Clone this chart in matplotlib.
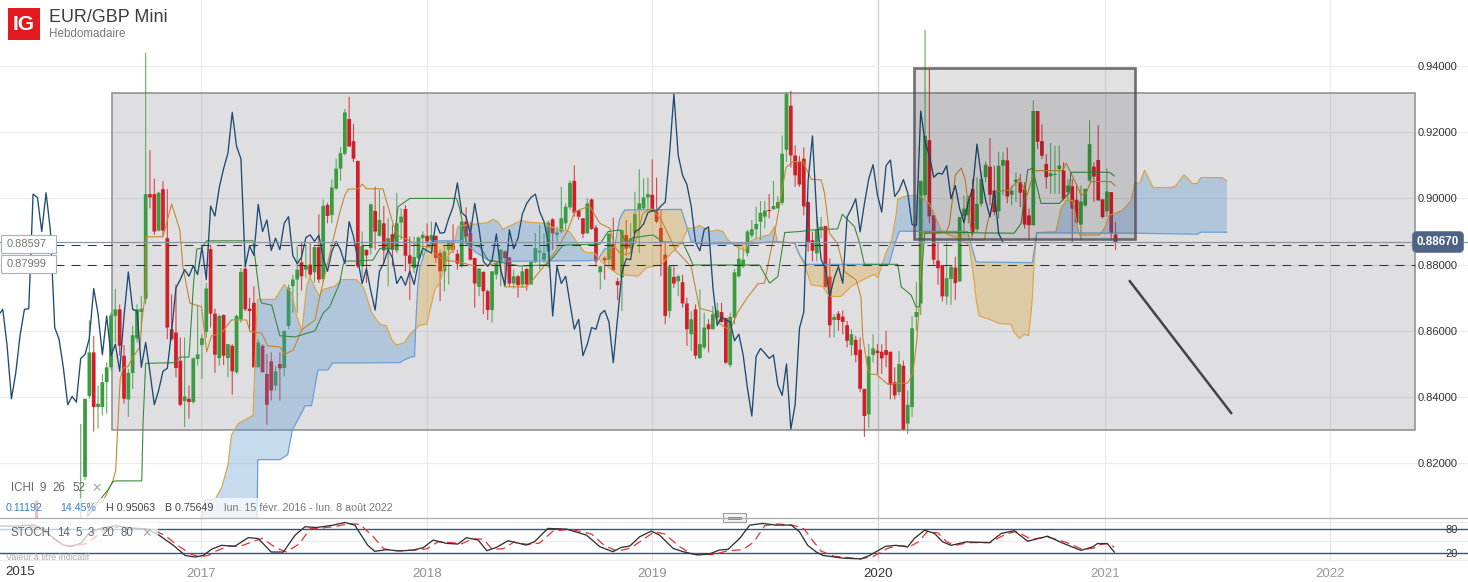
import numpy as np
import matplotlib
matplotlib.use("Agg")
import matplotlib.pyplot as plt
from matplotlib.patches import Rectangle

W, H = 1468, 582
plt.rcParams['font.family'] = ['Liberation Sans', 'DejaVu Sans']

# x axis unit is the weekly bar number, bar 0 is the first candle on screen
year_labels = ['2017', '2018', '2019', '2020', '2021', '2022']
year_weeks = [27.8, 79.9, 131.9, 184.2, 236.6, 288.6]
year_colors = ['#8f8f8f', '#8f8f8f', '#8f8f8f', '#333333', '#9a9a9a', '#9a9a9a']
price_ticks = [0.82, 0.84, 0.86, 0.88, 0.90, 0.92, 0.94]

opens = [.7960,.8159,.8403,.8535,.8370,.8370,.8445,.8490,.8645,.8665,.8525,.8393,
 .8473,.8577,.8657,.8697,.9013,.9013,.8903,.9028,.8880,.8605,.8595,.8510,
 .8388,.8395,.8385,.8515,.8557,.8597,.8847,.8652,.8518,.8648,.8518,.8555,
 .8475,.8635,.8788,.8667,.8685,.8490,.8555,.8470,.8508,.8435,.8500,.8488,
 .8615,.8735,.8755,.8807,.8785,.8800,.8777,.8853,.8757,.8980,.8950,
 .9030,.9090,.9135,.9240,.9173,.9113,.8795,.8845,.8850,.8962,.8887,.8925,
 .8845,.8892,.8843,.8927,.8968,.8828,.8790,.8820,.8880,.8887,.8873,.8887,
 .8835,.8780,.8845,.8870,.8833,.8795,.8930,.8895,.8820,.8733,.8778,.8720,
 .8663,.8770,.8805,.8840,.8822,.8743,.8765,.8740,.8787,.8740,.8807,.8837,
 .8815,.8840,.8937,.8890,.8900,.8925,.8973,.9053,.8965,.8940,.8895,
 .8997,.8912,.8777,.8820,.8815,.8863,.8750,.8762,.8890,.8850,.8895,.8967,
 .8970,.9003,.9011,.8960,.8911,.8830,.8660,.8763,.8750,.8747,.8683,.8590,
 .8665,.8518,.8550,.8620,.8605,.8640,.8657,.8639,.8497,.8640,.8765,.8795,
 .8835,.8888,.8907,.8930,.8945,.8965,.8967,.8970,.8987,.9147,.9280,
 .9130,.9110,.9120,.8989,.8874,.8834,.8904,.8917,.8764,.8633,.8652,.8643,
 .8617,.8557,.8573,.8543,.8425,.8348,.8527,.8540,.8537,.8542,.8537,.8445,
 .8415,.8495,.8320,.8370,.8642,.8683,.9010,.9176,.8949,.8812,.8799,.8704,
 .8757,.8791,.8749,.8946,.8949,.9029,.8907,.8984,.9064,.9096,.9024,.8961,
 .9099,.9115,.9011,.9049,.9049,.9027,.8949,.8919,.9264,.9173,.9104,.9067,
 .9071,.9089,.9084,.9019,.9037,.8996,.8921,.8979,.9054,.9096,.9116,.8997,
 .8961,.9019,.8891]
closes = [.8026,.8395,.8535,.8370,.8380,.8445,.8490,.8647,.8665,.8555,.8395,.8473,
 .8587,.8665,.8667,.9013,.9003,.8900,.9017,.8903,.8610,.8575,.8488,.8377,
 .8402,.8385,.8517,.8529,.8578,.8728,.8652,.8528,.8645,.8525,.8560,.8478,
 .8645,.8778,.8665,.8660,.8490,.8565,.8475,.8377,.8420,.8478,.8487,.8600,
 .8730,.8755,.8785,.8765,.8797,.8770,.8853,.8755,.8977,.8947,.9033,
 .9090,.9137,.9260,.9157,.9120,.8795,.8857,.8828,.8982,.8900,.8935,.8843,
 .8880,.8845,.8925,.8945,.8827,.8803,.8823,.8882,.8890,.8870,.8889,.8820,
 .8780,.8840,.8870,.8845,.8803,.8930,.8885,.8815,.8743,.8788,.8720,.8663,
 .8780,.8805,.8845,.8820,.8743,.8765,.8738,.8780,.8740,.8808,.8850,.8842,
 .8835,.8927,.8895,.8897,.8940,.8975,.9047,.8957,.8945,.8893,.8985,
 .8908,.8810,.8795,.8813,.8893,.8782,.8738,.8905,.8848,.8880,.8953,.8985,
 .9003,.9013,.8960,.8930,.8865,.8645,.8795,.8743,.8765,.8683,.8605,.8635,
 .8525,.8560,.8610,.8605,.8650,.8662,.8627,.8504,.8642,.8777,.8818,.8815,
 .8900,.8907,.8923,.8957,.8963,.8962,.8977,.8989,.9135,.9315,.9130,
 .9070,.9042,.8976,.8867,.8842,.8906,.8914,.8733,.8617,.8642,.8633,.8627,
 .8570,.8590,.8527,.8425,.8343,.8523,.8547,.8533,.8517,.8527,.8437,.8405,
 .8500,.8303,.8377,.8608,.8657,.9053,.9189,.8946,.8815,.8789,.8704,.8759,
 .8794,.8744,.8944,.8969,.8999,.8899,.8984,.9059,.9102,.9011,.8959,.9099,
 .9116,.9006,.9024,.9057,.9017,.8921,.8919,.9264,.9171,.9129,.9064,.9076,
 .9074,.9099,.8999,.9039,.8969,.8927,.8991,.9029,.9164,.9066,.8994,.8944,
 .9021,.8894,.8867]
highs = [.8319,.8395,.8632,.8585,.8435,.8470,.8505,.8655,.8727,.8680,.8557,.8485,
 .8615,.8680,.8705,.9440,.9146,.9060,.9020,.9052,.9028,.8710,.8740,.8580,
 .8580,.8435,.8520,.8675,.8590,.8745,.8860,.8667,.8650,.8650,.8560,.8560,
 .8650,.8790,.8800,.8700,.8735,.8575,.8560,.8530,.8535,.8495,.8535,.8600,
 .8740,.8770,.8855,.8870,.8855,.8865,.8855,.8952,.8997,.8987,.9057,
 .9120,.9155,.9270,.9307,.9225,.9115,.8900,.8845,.8985,.9035,.9025,.8977,
 .8940,.8920,.9017,.8970,.8980,.8885,.8885,.8885,.8900,.8925,.8930,.8887,
 .8845,.8855,.8870,.8922,.8845,.8930,.8973,.8930,.8820,.8790,.8780,.8725,
 .8780,.8810,.8847,.8843,.8822,.8785,.8770,.8795,.8790,.8810,.8895,.8920,
 .8895,.8933,.8940,.8915,.9035,.8985,.9055,.9100,.8965,.8940,.9000,
 .9000,.8920,.8795,.8825,.8897,.8942,.8760,.8905,.8935,.8925,.9020,.9088,
 .9060,.9063,.9118,.9063,.8965,.8865,.8795,.8795,.8770,.8770,.8700,.8660,
 .8680,.8725,.8655,.8635,.8675,.8685,.8685,.8640,.8655,.8787,.8855,.8853,
 .8905,.8935,.8975,.8992,.8992,.9013,.9053,.9007,.9190,.9320,.9325,
 .9160,.9129,.9154,.8990,.8900,.8944,.8944,.8917,.8819,.8650,.8660,.8662,
 .8630,.8605,.8585,.8580,.8425,.8560,.8590,.8560,.8560,.8600,.8537,.8490,
 .8540,.8510,.8420,.8645,.8747,.9053,.9509,.9391,.8949,.8869,.8799,.8869,
 .8794,.8824,.8944,.9009,.9009,.9059,.9064,.9075,.9112,.9182,.9099,.9141,
 .9139,.9154,.9039,.9079,.9074,.9049,.8969,.9296,.9264,.9224,.9134,.9167,
 .9159,.9159,.9109,.9059,.9059,.9039,.9039,.9029,.9236,.9109,.9221,.8999,
 .9091,.9019,.8929]
lows = [.7900,.8150,.8395,.8296,.8305,.8345,.8350,.8480,.8565,.8525,.8380,.8340,
 .8425,.8565,.8595,.8680,.8970,.8890,.8900,.8885,.8575,.8570,.8460,.8372,
 .8310,.8335,.8380,.8495,.8455,.8580,.8610,.8473,.8495,.8497,.8460,.8407,
 .8470,.8625,.8660,.8600,.8490,.8490,.8475,.8317,.8390,.8420,.8390,.8463,
 .8605,.8655,.8655,.8722,.8760,.8760,.8745,.8745,.8745,.8925,.8925,
 .9025,.9053,.9130,.9155,.9110,.8790,.8760,.8745,.8830,.8845,.8885,.8805,
 .8735,.8795,.8835,.8875,.8780,.8693,.8775,.8815,.8825,.8850,.8850,.8805,
 .8690,.8720,.8740,.8835,.8785,.8790,.8865,.8813,.8670,.8705,.8650,.8633,
 .8625,.8755,.8735,.8735,.8733,.8728,.8700,.8730,.8722,.8740,.8805,.8785,
 .8805,.8790,.8845,.8870,.8895,.8905,.8965,.8945,.8935,.8880,.8893,
 .8905,.8795,.8725,.8755,.8795,.8780,.8693,.8660,.8825,.8835,.8890,.8835,
 .8965,.8965,.8960,.8925,.8765,.8620,.8640,.8730,.8705,.8670,.8555,.8540,
 .8515,.8515,.8545,.8535,.8605,.8615,.8625,.8500,.8490,.8620,.8760,.8790,
 .8825,.8880,.8880,.8875,.8910,.8940,.8967,.8970,.8980,.9110,.9093,
 .9035,.9035,.8949,.8839,.8810,.8810,.8880,.8730,.8580,.8580,.8600,.8590,
 .8550,.8525,.8505,.8415,.8280,.8307,.8505,.8470,.8470,.8490,.8393,.8393,
 .8405,.8300,.8288,.8340,.8600,.8648,.9000,.8925,.8800,.8739,.8689,.8679,
 .8679,.8694,.8749,.8889,.8925,.8889,.8899,.8975,.9050,.8979,.8949,.8939,
 .9009,.8986,.8979,.8989,.8974,.8909,.8874,.8919,.9149,.9119,.9029,.9014,
 .9014,.9014,.8994,.8994,.8867,.8924,.8874,.8974,.9049,.8989,.8994,.8939,
 .8944,.8874,.8844]

tenkan_wk = [1.5,2.1,5.1,7.5,8.1,8.3,9.1,9.8,10.9,12.1,13.7,14.1,15.0,15.1,19.0,21.0,22.9,23.6,25.2,27.9,
 29.1,30.2,32.5,34.8,38.3,39.1,41.8,43.2,46.0,47.1,49.1,51.0,54.1,55.2,57.9,59.8,61.0,61.8,64.1,65.0,
 66.0,69.8,72.1,73.3,75.6,77.9,80.6,81.8,83.7,87.1,90.6,94.5,96.8,97.9,102.9,104.4,107.5,109.9,112.5,114.1,
 117.5,119.9,122.2,123.3,124.9,126.8,128.3,129.8,131.8,134.1,137.4,141.0,142.9,146.0,147.5,149.9,151.8,154.1,156.4,157.9,
 160.6,162.9,164.5,166.8,168.7,171.0,171.8,172.9,174.8,176.4,179.1,180.2,180.6,181.8,182.5,183.7,186.4,189.1,191.0,192.2,
 193.1,193.7,194.4,198.7,199.9,200.6,201.3,202.0,203.4,204.3,205.2,205.9,208.7,209.4,211.4,214.5,216.8,218.6,220.2,226.7,
 227.6,230.2,231.0,232.2,233.3,237.9,238.9]
tenkan = [.8041,.8080,.8083,.8150,.8180,.8240,.8452,.8488,.8492,.8522,.8552,.8624,.8724,.8884,.8884,.8983,.8905,.8794,.8684,.8673,
 .8537,.8585,.8593,.8633,.8633,.8598,.8593,.8554,.8552,.8529,.8542,.8603,.8633,.8703,.8854,.8956,.9010,.9028,.9029,.9043,
 .9029,.9029,.8925,.8888,.8875,.8857,.8854,.8834,.8814,.8809,.8797,.8799,.8809,.8733,.8733,.8754,.8804,.8844,.8905,.8960,
 .8977,.8925,.8910,.8854,.8829,.8834,.8875,.8955,.8970,.8935,.8844,.8794,.8668,.8658,.8623,.8601,.8658,.8703,.8742,.8744,
 .8920,.9094,.9111,.9111,.9058,.9056,.9016,.8896,.8863,.8779,.8754,.8703,.8582,.8482,.8469,.8469,.8439,.8442,.8442,.8472,
 .8572,.8683,.8896,.8897,.8899,.8920,.8995,.9071,.9092,.9056,.8950,.8875,.8875,.8926,.9020,.9026,.9059,.9010,.9084,.9084,
 .9106,.9036,.9010,.9016,.9051,.9051,.9038]

kijun_wk = [1.7,3.8,6.3,7.5,8.1,14.1,14.4,15.0,21.8,22.9,25.0,25.6,26.0,26.8,27.9,29.1,39.8,40.6,41.4,41.8,
 44.1,46.0,49.5,54.1,56.0,57.5,59.8,60.6,61.0,63.7,67.5,69.1,72.1,73.3,76.0,86.8,87.5,89.1,92.2,94.1,
 101.4,107.5,109.9,111.4,119.9,121.8,124.5,126.0,127.5,132.1,134.5,139.1,140.6,141.4,156.8,159.1,161.0,162.6,166.0,169.1,
 174.8,175.9,178.7,179.9,181.0,188.7,189.5,191.8,192.9,193.7,194.9,204.9,207.1,215.6,217.2,218.7,219.8,221.8,226.0,228.3,
 228.7,237.6,238.7]
kijun = [.8041,.8080,.8120,.8145,.8147,.8147,.8322,.8502,.8504,.8521,.8521,.8643,.8734,.8847,.8850,.8872,.8872,.8784,.8699,.8684,
 .8678,.8585,.8582,.8600,.8654,.8673,.8744,.8799,.8811,.8811,.8814,.8849,.8849,.8975,.9000,.9000,.8971,.8865,.8854,.8814,
 .8796,.8799,.8834,.8859,.8862,.8900,.8905,.8865,.8881,.8890,.8869,.8865,.8824,.8799,.8799,.8744,.8764,.8897,.8900,.8905,
 .8908,.8952,.8915,.8865,.8801,.8801,.8733,.8708,.8673,.8673,.8895,.8897,.8896,.8895,.8925,.9086,.9091,.8985,.8985,.9017,
 .9079,.9079,.9068]

span_a_wk = [27.8,28.7,31.0,32.6,34.0,34.8,36.4,39.8,40.2,40.8,44.8,47.0,48.7,49.9,51.1,52.2,52.9,54.1,55.1,56.0,
 58.7,60.2,63.7,65.2,66.0,67.2,69.1,70.6,71.8,72.9,74.8,76.0,77.1,78.3,79.9,81.8,82.9,84.8,86.0,87.1,
 89.1,91.4,94.0,95.2,96.3,97.5,99.5,101.8,103.7,107.2,108.3,111.4,112.9,114.5,116.4,118.7,120.2,124.1,124.9,128.7,
 130.6,134.1,136.4,138.7,140.2,141.3,142.9,144.1,145.2,147.1,148.3,149.5,151.4,153.3,154.5,157.2,159.1,160.2,160.9,164.9,
 166.0,167.2,168.7,171.4,172.9,175.6,177.9,180.6,183.3,184.1,185.9,187.2,188.3,188.7,191.0,193.7,196.0,197.2,198.7,200.6,
 203.0,205.2,206.4,206.8,207.5,209.9,212.2,214.9,215.6,216.8,217.9,218.9,219.5,219.8,220.2,220.8,223.7,225.2,226.4,227.6,
 229.1,230.6,235.2,236.4,237.5,240.6,242.6,243.5,244.6,245.7,247.7,251.8,252.8,254.8,256.8,257.8,258.7,263.7,264.7]
span_a = [.8035,.8090,.8090,.8129,.8195,.8285,.8320,.8345,.8485,.8695,.8695,.8740,.8715,.8645,.8600,.8735,.8765,.8730,.8705,.8725,
 .8735,.8755,.8755,.8733,.8705,.8655,.8620,.8615,.8575,.8557,.8565,.8590,.8603,.8617,.8620,.8725,.8745,.8825,.8845,.8915,
 .8920,.8923,.8927,.8937,.8930,.8907,.8920,.8933,.8928,.8925,.8915,.8905,.8900,.8870,.8838,.8835,.8810,.8770,.8770,.8765,
 .8790,.8800,.8835,.8865,.8910,.8910,.8918,.8910,.8900,.8905,.8900,.8875,.8855,.8842,.8870,.8885,.8890,.8915,.8870,.8865,
 .8829,.8799,.8739,.8734,.8704,.8704,.8734,.8754,.8771,.8761,.8834,.8869,.8949,.8999,.9009,.9009,.8984,.8949,.8904,.8889,
 .8879,.8859,.8745,.8695,.8645,.8635,.8622,.8620,.8595,.8578,.8590,.8585,.8655,.8705,.8809,.8897,.8899,.8899,.8969,.8994,
 .8994,.8889,.8889,.8909,.8949,.8964,.8994,.9047,.9047,.9085,.9033,.9033,.9037,.9072,.9045,.9045,.9063,.9063,.9052]

# first two values sit below the visible part of the pane
span_b_wk = [27.8,40.7,40.9,46.0,47.8,48.9,51.0,51.8,53.3,54.8,57.1,58.2,73.7,74.4,76.5,77.1,77.4,77.8,78.3,79.9,81.4,
 88.2,91.0,94.5,96.0,117.5,119.4,121.0,123.3,124.5,125.6,138.7,140.2,141.0,142.9,154.9,160.2,164.9,166.0,167.5,186.7,
 187.9,189.1,204.8,206.8,219.8,220.8,243.3,257.9,258.7,264.7]
span_b = [.8000,.8000,.8211,.8211,.8226,.8301,.8352,.8374,.8374,.8482,.8482,.8503,.8504,.8510,.8522,.8522,.8625,.8725,.8790,.8855,.8872,
 .8872,.8840,.8810,.8810,.8812,.8815,.8847,.8853,.8940,.8965,.8967,.8905,.8870,.8863,.8863,.8870,.8865,.8830,.8801,.8801,
 .8859,.8901,.8900,.8808,.8806,.8896,.8895,.8892,.8898,.8898]

stoch_k_wk = [-18.6,-14.8,-10.9,-8.6,-7.1,-4.0,-2.1,0.2,1.8,4.5,7.9,12.1,15.2,18.1,21.4,24.1,26.4,28.3,30.2,32.5,
 35.6,38.7,41.0,44.0,46.8,49.5,51.8,54.5,58.3,61.0,63.3,66.3,67.9,70.6,73.7,76.8,79.1,81.4,84.5,87.1,
 89.1,91.8,93.8,96.0,98.7,102.9,104.8,107.9,112.2,116.8,119.9,122.9,124.9,126.8,129.1,131.8,133.7,136.8,139.1,142.5,
 145.2,147.5,149.5,152.2,154.5,157.5,160.6,164.1,166.0,167.9,169.9,171.4,176.0,180.2,182.2,185.9,188.3,191.0,192.5,194.9,
 197.2,199.1,201.0,204.5,209.9,212.6,215.6,218.7,223.3,226.7,231.0,233.7,234.8,237.1,238.7]
stoch_k = [88.7,88.7,91.3,82.6,65,39.1,36.5,45.2,69.6,82.6,89.6,82.6,81.8,65,39,13,8.7,13,28.7,39,
 36.5,59,56.5,21.7,21.7,65,87,85,91,98,91,39,23.5,27.8,24.4,26.9,32.9,52.6,44,42.3,
 58.6,52.6,25.1,33.7,50.9,39.7,48.3,82.6,80.8,65.4,35.4,22.6,33.7,37.1,61.1,75.7,65.4,31.1,22.6,14,
 16.6,26.9,28.6,56.9,91.1,95.4,91.1,91.3,74,39,21.7,13,6,4,13,36.5,39,34.8,56.5,78,
 69.6,47.8,39,47.8,46,69.6,76.6,49.6,62.6,45.2,26,34.8,43.5,43.5,21.7]

stoch_d_wk = [-12,-8.5,-5.5,-3,-1,1.5,5,9,14,17,19.5,22.5,25.5,27.5,29.5,31,34,37,39.5,42,
 45,47.5,50.5,53,56,59,62,64.5,67.5,70,73,77,80,82.5,85.5,88,90.5,93,95,97.5,
 100,103.5,106,109,113,118,121,124,127,130,132.5,135,138,141,146,149.5,153,155.5,158,161,
 164.5,167,169,171,174,180,183,186.5,189,191.5,193.5,195.5,198,200,202,205,210,213.5,216,219.5,
 223.5,227.5,231.5,234,235.5,237.5,238.7]
stoch_d = [89,76,50,37,38,44,75,88,82,78,64,38,16,9.5,13,23,37,37,48,57,
 33,22,43,82,84,88,95,93,62,30,25,26.5,30,48,46,43,56,55,29,30,
 47,41,45,75,81,68,38,24,32,55,74,68,38,17,15,25,28,48,90,94,
 91,82,52,24,11,4,10,32,38,36,48,74,71,48,39,46,46,67,75,55,
 60,47,28,32,41,44,34]

level_labels = ['0.88597', '0.87999']
level_prices = [0.88597, 0.87999]
last_price = 0.8867
trend_wk = [242.3, 265.7]
trend_price = [0.8750, 0.8352]
big_box_wk = [7.2, 308.2]
big_box_price = [0.8301, 0.9319]
small_box_wk = [192.5, 243.5]
small_box_price = [0.8878, 0.9395]
stoch_levels = [20, 80]

GREEN = '#3a9b3f'
RED = '#d11f27'


def fx(px):
    return px / W


def fy(py):
    return 1 - py / H


fig = plt.figure(figsize=(W / 100, H / 100), dpi=100)
ax = fig.add_axes([0, fy(518), 1, 518 / H])
ax2 = fig.add_axes([0, fy(562), 1, 44 / H])

xlim = (-18.64, 320.4)
ax.set_xlim(*xlim)
ax2.set_xlim(*xlim)
ax.set_ylim(0.80349, 0.95993)
ax2.set_ylim(-4, 109.5)
for a in (ax, ax2):
    for s in a.spines.values():
        s.set_visible(False)
    a.set_axisbelow(True)

# --- grid, ticks
ax.set_xticks(year_weeks)
ax.set_xticklabels([])
ax.set_yticks(price_ticks)
ax.set_yticklabels(['%.5f' % v for v in price_ticks])
ax.yaxis.tick_right()
ax.tick_params(axis='both', length=0)
ax.tick_params(axis='y', pad=-36, labelsize=8, labelcolor='#333333')
ax.grid(color='#ececec', linewidth=0.9)

ax2.set_xticks(year_weeks)
ax2.set_xticklabels(year_labels)
ax2.set_yticks(stoch_levels)
ax2.set_yticklabels([str(v) for v in stoch_levels])
ax2.set_yticks([0, 50, 100], minor=True)
ax2.yaxis.tick_right()
ax2.tick_params(axis='both', which='both', length=0)
ax2.tick_params(axis='y', pad=-16, labelsize=8, labelcolor='#333333')
ax2.tick_params(axis='x', pad=4.5, labelsize=9.5)
ax2.grid(axis='x', color='#e6e6e6', linewidth=0.9)
ax2.grid(axis='y', which='minor', color='#ececec', linewidth=0.9)
for t, c in zip(ax2.get_xticklabels(), year_colors):
    t.set_color(c)
for a in (ax, ax2):
    a.get_xgridlines()[3].set_color('#cfcfcf')

# --- big range box under the candles
ax.add_patch(Rectangle((big_box_wk[0], big_box_price[0]), big_box_wk[1] - big_box_wk[0],
                       big_box_price[1] - big_box_price[0], facecolor=(0.27, 0.27, 0.33, 0.168),
                       edgecolor='#8c8c8e', linewidth=1.1, zorder=1))

# --- candles
x = np.arange(len(closes))
o, c, h, l = np.array(opens), np.array(closes), np.array(highs), np.array(lows)
up = c >= o
for mask, col in ((up, GREEN), (~up, RED)):
    wicks = ax.vlines(x[mask], l[mask], h[mask], colors=col, linewidth=0.8, alpha=0.8, zorder=3)
    wicks.set_snap(False)
    bodies = ax.bar(x[mask], np.abs(c - o)[mask], bottom=np.minimum(o, c)[mask], width=0.86,
                    color=col, linewidth=0, zorder=3)
    for b in bodies:
        b.set_snap(False)
ax.vlines(-10.3, 0.80349, 0.8090, colors=RED, linewidth=2.2, zorder=3)

# --- cloud
cloud_x = np.union1d(span_a_wk, span_b_wk)
a_line = np.interp(cloud_x, span_a_wk, span_a, left=np.nan, right=np.nan)
b_line = np.interp(cloud_x, span_b_wk, span_b, left=np.nan, right=np.nan)
ax.fill_between(cloud_x, a_line, b_line, where=a_line >= b_line, interpolate=True,
                facecolor='#488acd', alpha=0.3, linewidth=0, zorder=4)
ax.fill_between(cloud_x, a_line, b_line, where=a_line < b_line, interpolate=True,
                facecolor='#d9a025', alpha=0.3, linewidth=0, zorder=4)
ax.plot(span_a_wk, span_a, color='#dba544', linewidth=0.85, zorder=5)
ax.plot(span_b_wk, span_b, color='#6a9ed6', linewidth=0.9, zorder=5)

# --- ichimoku lines, lagging line is the close moved back 26 bars
ax.plot(tenkan_wk, tenkan, color='#c4882a', linewidth=0.8, zorder=5)
ax.plot(kijun_wk, kijun, color='#3b8a3e', linewidth=0.8, zorder=5)
ax.plot(x - 26, closes, color='#1f4a72', linewidth=0.95, zorder=5)

# --- levels and last price
ax.axhline(last_price, color='#8b96a8', linewidth=0.9, zorder=5)
for p in level_prices:
    ax.plot([-6, big_box_wk[1]], [p, p], color='#333333', linewidth=0.75,
            dashes=(8.5, 7), zorder=6)
ax.plot(trend_wk, trend_price, color='#444444', linewidth=1.8, zorder=6)

# --- smaller box on top of everything in it
ax.add_patch(Rectangle((small_box_wk[0], small_box_price[0]), small_box_wk[1] - small_box_wk[0],
                       small_box_price[1] - small_box_price[0], facecolor=(0, 0, 0, 0.116),
                       edgecolor=(0.3, 0.3, 0.33, 0.8), linewidth=1.9, zorder=7))

# --- stochastic pane
for v in stoch_levels:
    ax2.axhline(v, color='#1f5b8f', linewidth=1.0, zorder=2)
ax2.plot(stoch_d_wk, stoch_d, color='#e8303a', linewidth=0.9, dashes=(7, 4), zorder=3)
ax2.plot(stoch_k_wk, stoch_k, color='#333333', linewidth=0.95, zorder=4)

# --- overlays behind the legends
for (px, py, pw, ph) in [(0, 498, 395, 20), (0, 522, 158, 26)]:
    axis = ax if py < 518 else ax2
    axis.add_patch(Rectangle((fx(px), fy(py + ph)), pw / W, ph / H, transform=fig.transFigure,
                             facecolor='white', alpha=0.72, linewidth=0, zorder=8, clip_on=False))

# pane separator and handle
fig.add_artist(plt.Line2D([0, 1], [fy(518), fy(518)], color='#aeaeae', linewidth=0.9))
fig.add_artist(Rectangle((fx(723), fy(522)), 23 / W, 9 / H, transform=fig.transFigure,
                         facecolor='#f4f4f6', edgecolor='#9a9aa2', linewidth=0.8))
for py in (516.5, 518.5):
    fig.add_artist(plt.Line2D([fx(728), fx(741)], [fy(py), fy(py)], color='#8a8a92', linewidth=0.7))


def label(px, py, s, size=8, color='#666666', **kw):
    fig.text(fx(px), fy(py), s, fontsize=size, color=color, va='center', zorder=20, **kw)


# header
fig.add_artist(Rectangle((fx(8), fy(40)), 32 / W, 32 / H, transform=fig.transFigure,
                         facecolor='#e2191f', linewidth=0))
label(24, 24.5, 'IG', size=15, color='white', ha='center', fontweight='bold')
label(49, 17, 'EUR/GBP Mini', size=12.9, color='#3c3c3c')
label(49, 34, 'Hebdomadaire', size=8.4, color='#77777f')

# indicator legends
for px, s in [(10.7, 'ICHI'), (39.5, '9'), (52.7, '26'), (72, '52')]:
    label(px, 488, s, size=8.3)
label(91, 488, '\u2715', size=9, color='#a8a8a8', family=['DejaVu Sans'], fontweight='bold')
for px, s, col in [(5.7, '0.11192', '#3a7fc4'), (60, '14.45%', '#3a7fc4'), (105.7, 'H 0.95063', '#444444'),
                   (165, 'B 0.75649', '#444444'),
                   (224, 'lun. 15 f\u00e9vr. 2016 - lun. 8 ao\u00fbt 2022', '#777777')]:
    label(px, 508, s, size=7.7, color=col)
for px, s in [(10.7, 'STOCH'), (56.7, '14'), (75, '5'), (88, '3'), (101.7, '20'), (120.7, '80')]:
    label(px, 533, s, size=8.3)
label(141, 533, '\u2715', size=9, color='#a8a8a8', family=['DejaVu Sans'], fontweight='bold')
label(5.7, 557, 'Valeur \u00e0 titre indicatif', size=6.4, color='#aaaaaa')
label(5, 572, '2015', size=9.5, color='#333333')

# level boxes at the left
for py, s in zip((244, 264), level_labels):
    fig.add_artist(Rectangle((fx(0.5), fy(py + 9)), 55 / W, 18 / H, transform=fig.transFigure,
                             facecolor='white', edgecolor='#aab0ba', linewidth=0.8))
    label(27, py, s, size=8, color='#777777', ha='center')

# last price tag
fig.text(fx(1438), fy(242), '%.5f' % last_price, fontsize=8.4, color='white', fontweight='bold',
         ha='center', va='center', zorder=20,
         bbox=dict(boxstyle='round,pad=0.38', facecolor='#4d6284', edgecolor='#6d7f9c', linewidth=0.6))

fig.savefig('out.png', dpi=100)
